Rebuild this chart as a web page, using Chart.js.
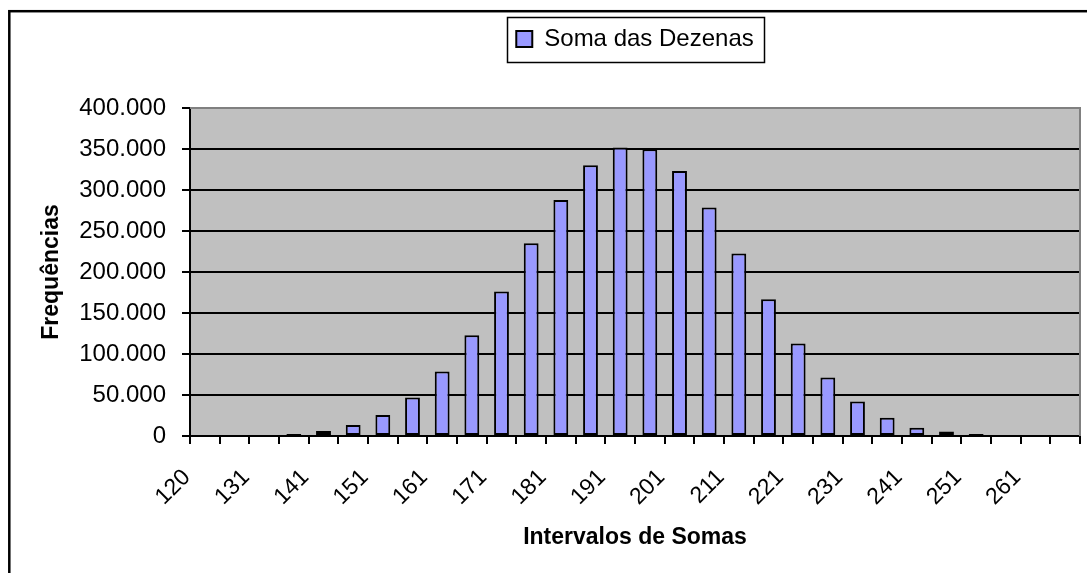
<!DOCTYPE html>
<html>
<head>
<meta charset="utf-8">
<script src="https://cdn.jsdelivr.net/npm/chart.js@4/dist/chart.umd.min.js"></script>
<style>
  html, body { margin: 0; padding: 0; background: #fff; }
  #wrap { width: 1087px; height: 573px; position: relative; }
</style>
</head>
<body>
<div id="wrap"><canvas id="c"></canvas></div>
<script>
// ---- data ----
const categories = ['120','126','131','136','141','146','151','156','161','166',
                    '171','176','181','186','191','196','201','206','211','216',
                    '221','226','231','236','241','246','251','256','261','266'];
const frequencias = [0, 0, 0, 2500, 6000, 13400, 25600, 46800, 78600, 122900,
                     176200, 235100, 287900, 330300, 351800, 349800, 323300, 278600, 222500, 166800,
                     112700, 71200, 42000, 22400, 10200, 5400, 2500, 0, 0, 0];
const seriesName = 'Soma das Dezenas';
const xTitle = 'Intervalos de Somas';
const yTitle = 'Frequências';
const yMin = 0, yMax = 400000, yStep = 50000;

const FONT = "'Liberation Sans', Arial, sans-serif";
function fmt(v) { return String(v).replace(/\B(?=(\d{3})+(?!\d))/g, '.'); }

const decor = {
  id: 'decor',
  beforeInit(chart) {
    // spacer between legend and plot area
    Chart.layouts.addBox(chart, {
      position: 'top', weight: 0, fullSize: false, options: {},
      left: 0, top: 0, right: 0, bottom: 0, width: 0, height: 0,
      isHorizontal() { return true; },
      update(maxWidth) { this.width = maxWidth; this.height = 47; },
      draw() {}
    });
  },
  beforeDraw(chart) {
    const { ctx, chartArea: a } = chart;
    ctx.save();
    ctx.fillStyle = '#ffffff';
    ctx.fillRect(0, 0, chart.width, chart.height);
    ctx.fillStyle = '#C0C0C0';
    ctx.fillRect(a.left, a.top, a.right - a.left, a.bottom - a.top);
    ctx.restore();
  },
  beforeDatasetsDraw(chart) {
    const { ctx, chartArea: a } = chart;
    ctx.save();
    ctx.strokeStyle = '#808080';
    ctx.lineWidth = 2;
    ctx.beginPath();
    ctx.moveTo(a.left, a.top);
    ctx.lineTo(a.right, a.top);
    ctx.lineTo(a.right, a.bottom);
    ctx.stroke();
    ctx.restore();
  },
  afterDraw(chart) {
    const ctx = chart.ctx;
    ctx.save();
    // outer chart border (cut off at right/bottom)
    ctx.strokeStyle = '#000';
    ctx.lineWidth = 2.5;
    ctx.strokeRect(9.3, 11.2, 5000, 5000);
    // legend frame
    const lg = chart.legend;
    if (lg && lg.legendHitBoxes && lg.legendHitBoxes.length) {
      const hb = lg.legendHitBoxes[0];
      const cy = hb.top + hb.height / 2;
      ctx.lineWidth = 1.5;
      ctx.strokeRect(Math.round(hb.left - 9) + 0.5, Math.round(cy - 22.5) + 0.5, Math.round(hb.width + 20), 45);
    }
    ctx.restore();
  }
};

new Chart(document.getElementById('c'), {
  type: 'bar',
  data: {
    labels: categories,
    datasets: [{
      label: seriesName,
      data: frequencias,
      backgroundColor: '#9999FF',
      borderColor: '#000000',
      borderWidth: 2,
      borderSkipped: false,
      barPercentage: 0.5,
      categoryPercentage: 1.0
    }]
  },
  options: {
    responsive: true,
    maintainAspectRatio: false,
    animation: false,
    devicePixelRatio: 1,
    layout: { padding: { top: 17, left: 38, right: 7, bottom: 22 } },
    plugins: {
      legend: {
        display: true,
        position: 'top',
        fullSize: false,
        labels: {
          font: { family: FONT, size: 24 },
          color: '#000',
          boxWidth: 16,
          boxHeight: 16,
          padding: 10
        }
      },
      tooltip: { enabled: false },
      title: { display: false }
    },
    scales: {
      x: {
        type: 'category',
        offset: true,
        grid: { display: true, drawOnChartArea: false, drawTicks: true, tickLength: 8, color: '#000', lineWidth: 2, offset: true },
        border: { display: true, color: '#000', width: 2 },
        ticks: {
          autoSkip: false,
          maxRotation: 45,
          minRotation: 45,
          padding: 2,
          color: '#000',
          font: { family: FONT, size: 23 },
          callback: (v, i) => (i % 2 === 0 ? categories[i] + '\u00a0\u00a0\u00a0\u00a0' : '')
        },
        title: {
          display: true,
          text: xTitle,
          color: '#000',
          font: { family: FONT, size: 23, weight: 'bold' },
          padding: 0
        },
        afterFit(s) { s.height = 115; s.paddingLeft = 0; s.paddingRight = 0; }
      },
      y: {
        min: yMin,
        max: yMax,
        grid: { color: '#000', lineWidth: 2, tickLength: 8, drawTicks: true },
        border: { display: true, color: '#000', width: 2 },
        ticks: {
          stepSize: yStep,
          padding: 16,
          color: '#000',
          font: { family: FONT, size: 24 },
          callback: (v) => fmt(v)
        },
        title: {
          display: true,
          text: yTitle,
          color: '#000',
          font: { family: FONT, size: 23, weight: 'bold' },
          padding: 0
        },
        afterFit(s) { s.width = 152; }
      }
    }
  },
  plugins: [decor]
});
</script>
</body>
</html>
